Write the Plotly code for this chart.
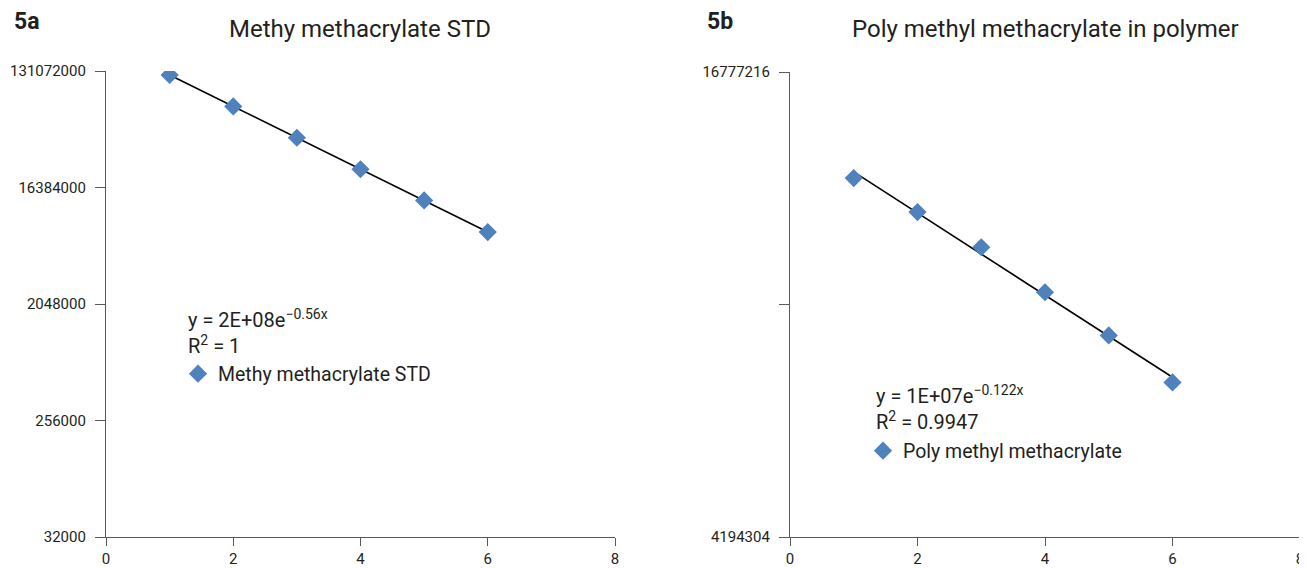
import numpy as np
import plotly.graph_objects as go

# ---- data ----
x_std = [1, 2, 3, 4, 5, 6]
y_std = [122000000, 69700000, 39800000, 22700000, 13000000, 7400000]
x_pmma = [1, 2, 3, 4, 5, 6]
y_pmma = [12230000, 11050000, 9950000, 8700000, 7650000, 6650000]

left_ticks = [32000, 256000, 2048000, 16384000, 131072000]
left_ticktext = ["32000", "256000", "2048000", "16384000", "131072000"]
right_ticks = [4194304, 8388608, 16777216]
right_ticktext = ["4194304", "", "16777216"]
x_ticks = [0, 2, 4, 6, 8]

title_left = "Methy methacrylate STD"
title_right = "Poly methyl methacrylate in polymer"
name_left = "Methy methacrylate STD"
name_right = "Poly methyl methacrylate"
eq_left = ["y = 2E+08e<sup>\u22120.56x</sup>", "R<sup>2</sup> = 1"]
eq_right = ["y = 1E+07e<sup>\u22120.122x</sup>", "R<sup>2</sup> = 0.9947"]

FONT = "Roboto, Liberation Sans, sans-serif"
TXT = "#231f20"
AX = "#58595b"
BLUE = "#4f81bd"

# page has an 8px body margin; window is 1307x568
OFF = 8
W, H = 1307 - OFF, 568 - OFF
# plot region in window pixels
L0, R0, T0, B0 = 106, 1300, 71, 537
ML, MR, MT, MB = L0 - OFF, W - (R0 - OFF), T0 - OFF, H - (B0 - OFF)
PW, PH = W - ML - MR, H - MT - MB


def px(x):
    return (x - L0) / PW


def py(y):
    return (B0 - y) / PH


def trend(xs, ys):
    b, a = np.polyfit(np.array(xs, float), np.log(np.array(ys, float)), 1)
    xx = np.linspace(min(xs), max(xs), 50)
    return xx, np.exp(a + b * xx)


fig = go.Figure()
tx, ty = trend(x_std, y_std)
fig.add_trace(go.Scatter(x=tx, y=ty, mode="lines", line=dict(color="black", width=1.6),
                         showlegend=False, hoverinfo="skip", xaxis="x", yaxis="y"))
fig.add_trace(go.Scatter(x=x_std, y=y_std, mode="markers", name=name_left,
                         marker=dict(symbol="diamond", size=14, color=BLUE),
                         xaxis="x", yaxis="y", legend="legend"))
tx2, ty2 = trend(x_pmma, y_pmma)
fig.add_trace(go.Scatter(x=tx2, y=ty2, mode="lines", line=dict(color="black", width=1.6),
                         showlegend=False, hoverinfo="skip", xaxis="x2", yaxis="y2"))
fig.add_trace(go.Scatter(x=x_pmma, y=y_pmma, mode="markers", name=name_right,
                         marker=dict(symbol="diamond", size=14, color=BLUE),
                         xaxis="x2", yaxis="y2", legend="legend2"))

axis_common = dict(showgrid=False, zeroline=False, showline=True, linecolor=AX, linewidth=1.2,
                   ticks="outside", tickcolor=AX, tickwidth=1.2, automargin=False,
                   tickfont=dict(family=FONT, size=15, color=TXT))

fig.update_layout(
    width=W, height=H,
    margin=dict(l=ML, r=MR, t=MT, b=MB, autoexpand=False),
    paper_bgcolor="white", plot_bgcolor="white",
    font=dict(family=FONT, color=TXT),
    xaxis=dict(domain=[0, px(615)], range=[0, 8], tickvals=x_ticks, anchor="y",
               ticklen=8, ticklabelstandoff=0, **axis_common),
    yaxis=dict(domain=[0, 1], type="log",
               range=[np.log10(32000), np.log10(131072000)],
               tickvals=left_ticks, ticktext=left_ticktext, anchor="x",
               ticklen=10, ticklabelstandoff=6, **axis_common),
    xaxis2=dict(domain=[px(790), 1], range=[0, 8], tickvals=x_ticks, anchor="y2",
                ticklen=8, ticklabelstandoff=0, **axis_common),
    yaxis2=dict(domain=[0, py(72)], type="log",
                range=[np.log10(4194304), np.log10(16777216)],
                tickvals=right_ticks, ticktext=right_ticktext, anchor="x2",
                ticklen=10, ticklabelstandoff=6, **axis_common),
    legend=dict(x=px(178), y=py(374), xanchor="left", yanchor="middle",
                bgcolor="rgba(0,0,0,0)", font=dict(family=FONT, size=19.5, color=TXT)),
    legend2=dict(x=px(863), y=py(451), xanchor="left", yanchor="middle",
                 bgcolor="rgba(0,0,0,0)", font=dict(family=FONT, size=19.5, color=TXT)),
)

ann = []
# panel labels
ann.append(dict(text="<b>5a</b>", x=px(12), y=py(22), xanchor="left", yanchor="middle",
                font=dict(family=FONT, size=23, color=TXT)))
ann.append(dict(text="<b>5b</b>", x=px(705), y=py(22), xanchor="left", yanchor="middle",
                font=dict(family=FONT, size=23, color=TXT)))
# titles
ann.append(dict(text=title_left, x=px(360), y=py(29), xanchor="center", yanchor="middle",
                font=dict(family=FONT, size=24, color=TXT)))
ann.append(dict(text=title_right, x=px(1045), y=py(29), xanchor="center", yanchor="middle",
                font=dict(family=FONT, size=24, color=TXT)))
# equations (two lines each, left aligned)
ann.append(dict(text="<br>".join(eq_left), x=px(186), y=py(304), xanchor="left", yanchor="top",
                align="left", font=dict(family=FONT, size=20, color=TXT)))
ann.append(dict(text="<br>".join(eq_right), x=px(874), y=py(380), xanchor="left", yanchor="top",
                align="left", font=dict(family=FONT, size=20, color=TXT)))

for a in ann:
    a.update(xref="paper", yref="paper", showarrow=False)
fig.update_layout(annotations=ann)

fig.write_html("out.html")
